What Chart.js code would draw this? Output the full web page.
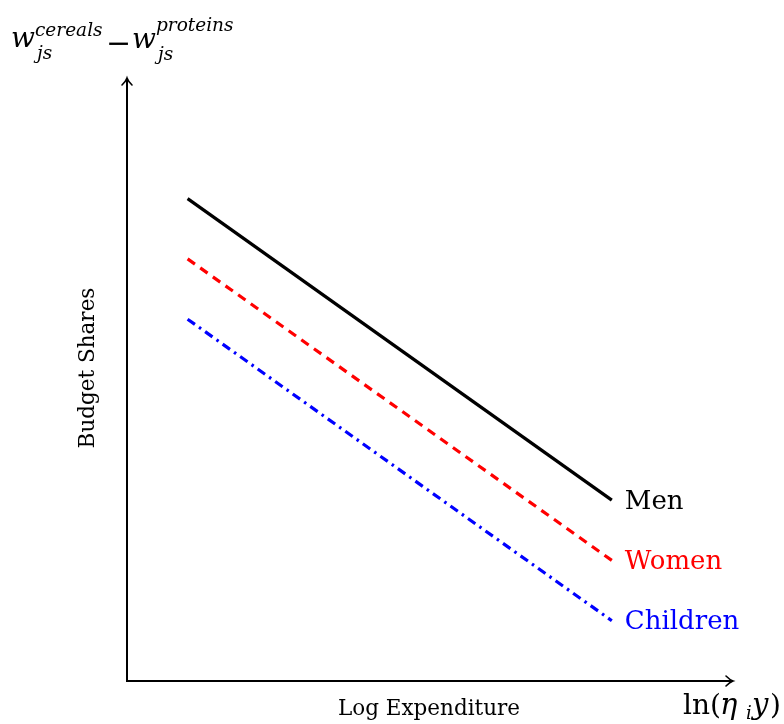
<!DOCTYPE html>
<html>
<head>
<meta charset="utf-8">
<script src="https://cdn.jsdelivr.net/npm/chart.js@4/dist/chart.umd.min.js"></script>
<style>
  html, body { margin: 0; padding: 0; background: #fff; }
  #wrap { width: 784px; height: 724px; }
</style>
</head>
<body>
<div id="wrap"><canvas id="c" width="784" height="724"></canvas></div>
<script>
// Stylised budget-share lines against log expenditure
const xPoints = [1, 8];
const menShares = [8, 3];
const womenShares = [7, 2];
const childrenShares = [6, 1];
const groupNames = ['Men', 'Women', 'Children'];
const groupColors = ['#000000', '#ff0000', '#0000ff'];

const SERIF = '"DejaVu Serif", "Liberation Serif", serif';

function pts(ys) { return xPoints.map((x, i) => ({ x: x, y: ys[i] })); }

function put(ctx, font, text, x, y) {
  ctx.font = font;
  ctx.fillText(text, x, y);
}

// Axes with arrowheads plus the end-of-line labels and axis captions
const decor = {
  id: 'decor',
  afterDraw(chart) {
    const ctx = chart.ctx;
    const a = chart.chartArea;
    const x0 = a.left, y0 = a.bottom;
    ctx.save();
    ctx.strokeStyle = '#000';
    ctx.lineWidth = 2;
    ctx.lineCap = 'butt';
    // y axis
    ctx.beginPath();
    ctx.moveTo(x0, y0 + 1);
    ctx.lineTo(x0, a.top);
    ctx.stroke();
    // x axis
    ctx.beginPath();
    ctx.moveTo(x0 - 1, y0);
    ctx.lineTo(a.right, y0);
    ctx.stroke();
    // arrowheads
    ctx.lineWidth = 1.6;
    ctx.lineCap = 'round';
    ctx.beginPath();
    ctx.moveTo(x0 - 5, a.top + 7);
    ctx.quadraticCurveTo(x0 - 1, a.top + 3, x0, a.top);
    ctx.quadraticCurveTo(x0 + 1, a.top + 3, x0 + 5, a.top + 7);
    ctx.stroke();
    ctx.beginPath();
    ctx.moveTo(a.right - 7, y0 - 5);
    ctx.quadraticCurveTo(a.right - 3, y0 - 1, a.right, y0);
    ctx.quadraticCurveTo(a.right - 3, y0 + 1, a.right - 7, y0 + 5);
    ctx.stroke();

    // labels at the right end of each line
    ctx.font = '26px ' + SERIF;
    ctx.textBaseline = 'middle';
    ctx.textAlign = 'left';
    chart.data.datasets.forEach((ds, i) => {
      const meta = chart.getDatasetMeta(i);
      const last = meta.data[meta.data.length - 1];
      ctx.fillStyle = groupColors[i];
      ctx.fillText(groupNames[i], last.x + 13, last.y + 2);
    });

    // axis captions
    ctx.fillStyle = '#000';
    ctx.font = '21.5px ' + SERIF;
    ctx.textAlign = 'center';
    ctx.textBaseline = 'middle';
    ctx.fillText('Log Expenditure', 429, 709);
    ctx.save();
    ctx.translate(88, 368);
    ctx.rotate(-Math.PI / 2);
    ctx.font = '21.5px ' + SERIF;
    ctx.fillText('Budget Shares', 0, 0);
    ctx.restore();

    // ln(η_i y)
    ctx.textAlign = 'left';
    ctx.textBaseline = 'alphabetic';
    put(ctx, '28px ' + SERIF, 'ln(', 683, 714);
    put(ctx, 'italic 29px ' + SERIF, '\u03B7', 720, 714);
    put(ctx, 'italic 18px ' + SERIF, 'i', 746, 719);
    put(ctx, 'italic 29px ' + SERIF, 'y', 752, 714);
    put(ctx, '28px ' + SERIF, ')', 770, 714);

    // w^cereals_js − w^proteins_js
    put(ctx, 'italic 28px ' + SERIF, 'w', 11, 47);
    put(ctx, 'italic 18.5px ' + SERIF, 'cereals', 35, 36);
    put(ctx, 'italic 18.5px ' + SERIF, 'js', 37, 59);
    put(ctx, '30px ' + SERIF, '\u2212', 106, 53);
    put(ctx, 'italic 28px ' + SERIF, 'w', 132, 48);
    put(ctx, 'italic 18.5px ' + SERIF, 'proteins', 156, 31);
    put(ctx, 'italic 18.5px ' + SERIF, 'js', 158, 60);
    ctx.restore();
  }
};

new Chart(document.getElementById('c'), {
  type: 'line',
  data: {
    datasets: [
      { label: groupNames[0], data: pts(menShares), borderColor: groupColors[0], borderWidth: 3.2, pointRadius: 0, borderCapStyle: 'butt' },
      { label: groupNames[1], data: pts(womenShares), borderColor: groupColors[1], borderWidth: 3.2, pointRadius: 0, borderDash: [9, 6.5] },
      { label: groupNames[2], data: pts(childrenShares), borderColor: groupColors[2], borderWidth: 3.2, pointRadius: 0, borderDash: [9, 5, 2.5, 5] }
    ]
  },
  options: {
    responsive: false,
    animation: false,
    layout: { padding: { left: 127, right: 51, top: 78, bottom: 43 } },
    plugins: { legend: { display: false }, tooltip: { enabled: false } },
    scales: {
      x: { type: 'linear', min: 0, max: 10, display: false },
      y: { type: 'linear', min: 0, max: 10, display: false }
    }
  },
  plugins: [decor]
});
</script>
</body>
</html>
